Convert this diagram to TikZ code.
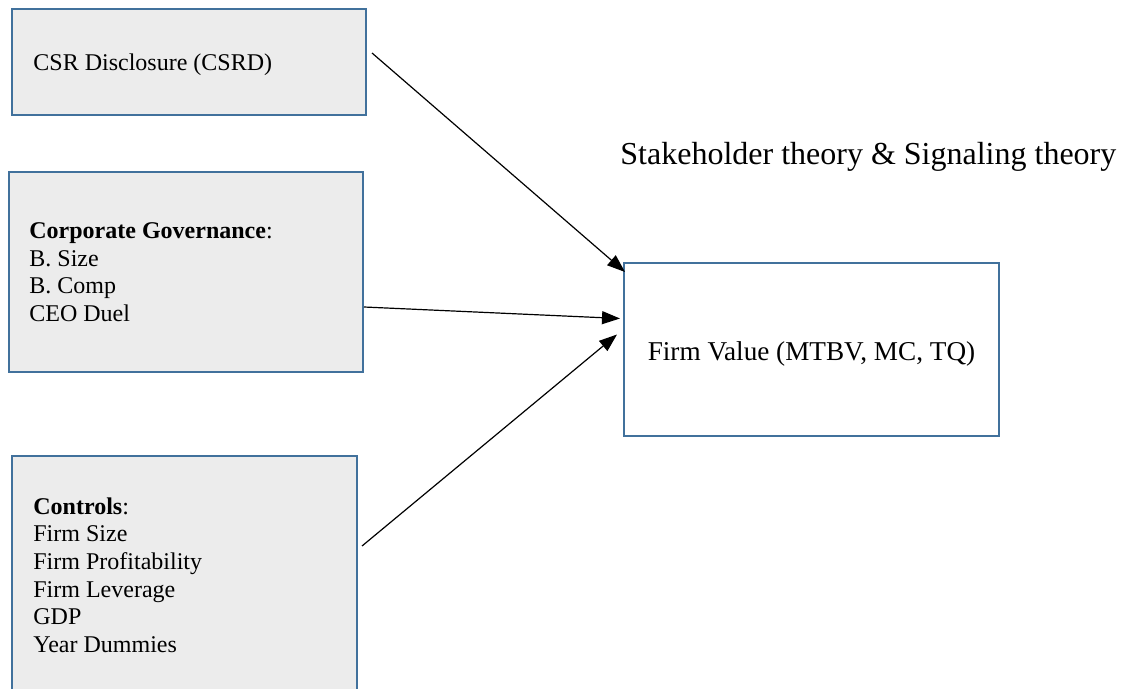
\documentclass[tikz,border=0pt]{standalone}
\usepackage{fontspec}
\setmainfont{Liberation Serif}
\usetikzlibrary{arrows.meta}
\definecolor{boxline}{HTML}{41719C}
\definecolor{boxfill}{HTML}{ECECEC}
\begin{document}
\begin{tikzpicture}[
        x=0.5pt, y=-0.5pt,
        font=\fontsize{12}{13.8}\selectfont,
        varbox/.style={draw=boxline, line width=1pt, fill=boxfill, anchor=north west, inner sep=0pt},
        outbox/.style={draw=boxline, line width=1pt, fill=white, anchor=north west, inner sep=0pt},
        boxtext/.style={anchor=west, align=left, inner sep=0pt},
        link/.style={line width=0.6pt, -{Triangle[length=9pt,width=6.5pt]}}
    ]
    \useasboundingbox (0,0) rectangle (1127,689);
    % boxes
    \node [varbox, minimum width=177pt, minimum height=53pt] (csrd) at (11,8) {};
    \node [varbox, minimum width=177pt, minimum height=100pt] (gov) at (8,171) {};
    \node [varbox, minimum width=172.5pt, minimum height=125pt] (ctrl) at (11,455) {};
    \node [outbox, minimum width=187.5pt, minimum height=86.5pt] (fv) at (623,262) {};
    % texts
    \node [boxtext] (csrdtext) at (33,65) {CSR Disclosure (CSRD)};
    \node [boxtext] (govtext) at (29,272) {\textbf{Corporate Governance}:\\B. Size\\B. Comp\\CEO Duel};
    \node [boxtext] (ctrltext) at (33,575) {\textbf{Controls}:\\Firm Size\\Firm Profitability\\Firm Leverage\\GDP\\Year Dummies};
    \node [inner sep=0pt, font=\fontsize{13.6}{15}\selectfont] (fvtext) at ([yshift=-2pt]fv.center) {Firm Value (MTBV, MC, TQ)};
    \node [inner sep=0pt, anchor=west, font=\fontsize{16}{18}\selectfont] (theory) at (620,157) {Stakeholder theory \& Signaling theory};
    % links
    \draw [link] ([shift={(5,-9)}]csrd.east) -- ([shift={(2,10)}]fv.north west);
    \draw [link] ([shift={(0,35)}]gov.east) -- ([shift={(-3,-31)}]fv.west);
    \draw [link] ([shift={(4,-35)}]ctrl.east) -- ([shift={(-6,-15)}]fv.west);
\end{tikzpicture}
\end{document}
